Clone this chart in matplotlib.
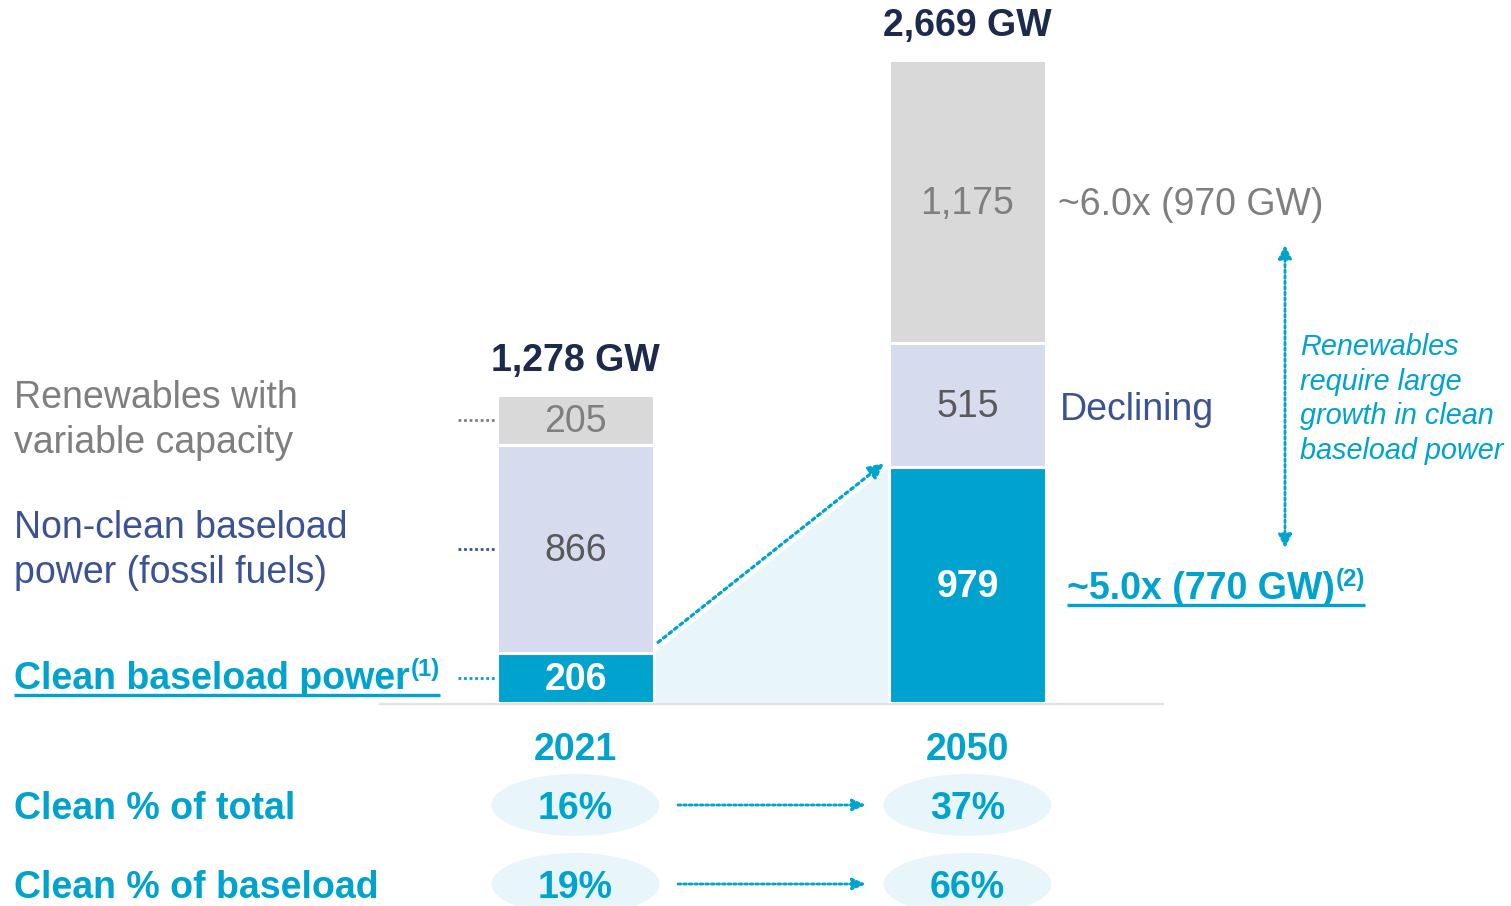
import numpy as np
import matplotlib.pyplot as plt
from matplotlib.patches import Ellipse, Polygon

plt.rcParams['font.family'] = ['Liberation Sans', 'DejaVu Sans']

# data
years = ['2021', '2050']
clean = [206, 979]
nonclean = [866, 515]
renew = [205, 1175]
totals = [1278, 2669]
pct_total = ['16%', '37%']
pct_base = ['19%', '66%']

# colours
CYAN = '#00A3CE'
LAV = '#D6DBED'
GREYBAR = '#D9D9D9'
NAVY = '#1C2A4C'
BLUE = '#3B5296'
GREY = '#7F7F7F'
DGREY = '#595959'
PALE = '#E8F6FC'

W, H = 1511, 906
BASE = 703   # baseline, px from top
TOP = 60     # top of tallest bar, px from top
k = (BASE - TOP) / totals[1]   # px per GW
PX = 1 / k                     # GW per px

def py(p):  # px from top -> data y
    return (BASE - p) / k

fig = plt.figure(figsize=(W / 100, H / 100), dpi=100)
ax = fig.add_axes([0, 0, 1, 1])
ax.set_xlim(0, W)
ax.set_ylim(-(H - BASE) / k, BASE / k)
ax.axis('off')

xs = [575.5, 967.5]
bw = 157
FS = 27

# shaded wedge between the clean bars
x_l, x_r = xs[0] + bw / 2, xs[1] - bw / 2
ax.add_patch(Polygon([(x_l, 0), (x_l, clean[0]), (x_r, clean[1]), (x_r, 0)],
                     fc=PALE, ec='none', zorder=0))

# baseline
ax.plot([380, 1163], [-1 * PX, -1 * PX], color='#E2E2E2', lw=1.6, zorder=4)

# stacked bars
ax.bar(xs, clean, bw, color=CYAN, edgecolor='white', lw=2.2, zorder=2)
ax.bar(xs, nonclean, bw, bottom=clean, color=LAV, edgecolor='white', lw=2.2, zorder=2)
bot2 = np.add(clean, nonclean)
ax.bar(xs, renew, bw, bottom=bot2, color=GREYBAR, edgecolor='white', lw=2.2, zorder=2)

for i in range(2):
    ax.text(xs[i], clean[i] / 2 - 2 * PX, f'{clean[i]:,}', ha='center', va='center',
            fontsize=FS, fontweight='bold', color='white', zorder=3)
    ax.text(xs[i], clean[i] + nonclean[i] / 2 - 2 * PX, f'{nonclean[i]:,}', ha='center',
            va='center', fontsize=FS, color=DGREY, zorder=3)
    ax.text(xs[i], bot2[i] + renew[i] / 2 - 2 * PX, f'{renew[i]:,}', ha='center',
            va='center', fontsize=FS, color=GREY, zorder=3)
    ax.text(xs[i], totals[i] + 24 * PX, f'{totals[i]:,} GW', ha='center', va='baseline',
            fontsize=FS, fontweight='bold', color=NAVY)

# dotted growth arrow
ax.annotate('', xy=(884, clean[1] + 4 * PX), xytext=(658, clean[0] + 11 * PX),
            arrowprops=dict(arrowstyle='-|>,head_length=0.9,head_width=0.45', color=CYAN,
                            lw=2.3, linestyle=(0, (1, 1.2)), shrinkA=0, shrinkB=0))

# left labels with leader lines
centres = [clean[0] / 2, clean[0] + nonclean[0] / 2, bot2[0] + renew[0] / 2]
for c, col in zip(centres, [CYAN, BLUE, GREY]):
    ax.plot([458, 496], [c, c], color=col, lw=2, ls=(0, (1, 1)))

for txt, yb in [('Renewables with', 408), ('variable capacity', 453)]:
    ax.text(14, py(yb), txt, fontsize=FS, color=GREY, va='baseline')
for txt, yb in [('Non-clean baseload', 538), ('power (fossil fuels)', 583)]:
    ax.text(14, py(yb), txt, fontsize=FS, color=BLUE, va='baseline')

renderer = fig.canvas.get_renderer()
inv = ax.transData.inverted()

def underlined(x, y, main, sup, size):
    t = ax.text(x, y, main, fontsize=size, fontweight='bold', color=CYAN, va='baseline')
    x1 = inv.transform((t.get_window_extent(renderer).x1, 0))[0]
    s = ax.text(x1 + 1, y + 13 * PX, sup, fontsize=size * 0.64, fontweight='bold',
                color=CYAN, va='baseline')
    x2 = inv.transform((s.get_window_extent(renderer).x1, 0))[0]
    ax.plot([x, x2], [y - 6 * PX] * 2, color=CYAN, lw=2.4, solid_capstyle='butt')

underlined(14, py(689), 'Clean baseload power', '(1)', FS)
underlined(1067, py(599), '~5.0x (770 GW)', '(2)', FS)

# right annotations
ax.text(1058, py(215), '~6.0x (970 GW)', fontsize=FS, color=GREY, va='baseline')
ax.text(1060, py(420), 'Declining', fontsize=FS, color=BLUE, va='baseline')

ax.annotate('', xy=(1285, py(245)), xytext=(1285, py(548)),
            arrowprops=dict(arrowstyle='<|-|>,head_length=0.8,head_width=0.4', color=CYAN,
                            lw=2, linestyle=(0, (1, 1)), shrinkA=0, shrinkB=0))
note = ['Renewables', 'require large', 'growth in clean', 'baseload power']
for j, line in enumerate(note):
    ax.text(1300, py(355 + 34.5 * j), line, fontsize=20.8, style='italic', color=CYAN,
            va='baseline')

# bottom rows
for i in range(2):
    ax.text(xs[i], py(760), years[i], ha='center', va='baseline', fontsize=FS,
            fontweight='bold', color=CYAN)

ax.text(14, py(819), 'Clean % of total', fontsize=FS, fontweight='bold', color=CYAN, va='baseline')
ax.text(14, py(898), 'Clean % of baseload', fontsize=FS, fontweight='bold', color=CYAN, va='baseline')

for row, (vals, yc) in enumerate([(pct_total, 805), (pct_base, 884)]):
    for i in range(2):
        ax.add_patch(Ellipse((xs[i], py(yc)), 168, 62 * PX, fc=PALE, ec='none', zorder=1))
        ax.text(xs[i], py(yc + 14), vals[i], ha='center', va='baseline', fontsize=FS,
                fontweight='bold', color=CYAN, zorder=2)
    ax.annotate('', xy=(866, py(yc)), xytext=(678, py(yc)),
                arrowprops=dict(arrowstyle='-|>,head_length=0.8,head_width=0.35', color=CYAN,
                                lw=2, linestyle=(0, (1, 1)), shrinkA=0, shrinkB=0))

fig.savefig('out.png', dpi=100)
